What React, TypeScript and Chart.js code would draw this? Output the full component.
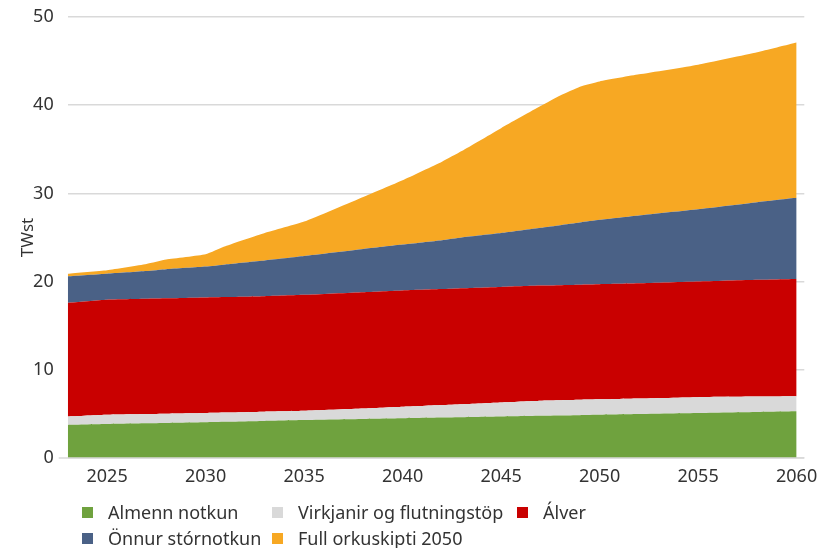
import React, { useEffect, useRef } from "react";
import { Chart, registerables } from "chart.js";

Chart.register(...registerables);

const years = [2023, 2025, 2027, 2028, 2030, 2031, 2033, 2035, 2038, 2040, 2042, 2043, 2045, 2047, 2048, 2049, 2050, 2052, 2055, 2058, 2060];

const almennNotkun = [3.75, 3.85, 3.93, 3.97, 4.05, 4.1, 4.2, 4.3, 4.42, 4.5, 4.58, 4.62, 4.7, 4.78, 4.82, 4.86, 4.9, 4.98, 5.1, 5.22, 5.3];
const virkjanir = [0.95, 1.05, 1.05, 1.05, 1.05, 1.05, 1.05, 1.05, 1.18, 1.3, 1.42, 1.48, 1.6, 1.72, 1.73, 1.74, 1.75, 1.77, 1.8, 1.74, 1.7];
const alver = [12.9, 13.05, 13.07, 13.08, 13.1, 13.1, 13.1, 13.15, 13.2, 13.2, 13.15, 13.15, 13.1, 13.05, 13.05, 13.05, 13.05, 13.05, 13.1, 13.24, 13.3];
const onnurStornotkun = [3.0, 2.95, 3.15, 3.3, 3.5, 3.7, 4.05, 4.4, 4.9, 5.2, 5.55, 5.75, 6.1, 6.55, 6.8, 7.05, 7.3, 7.7, 8.2, 8.8, 9.2];
const fullOrkuskipti = [0.3, 0.4, 0.8, 1.1, 1.4, 2.05, 3.1, 3.9, 5.9, 7.3, 8.9, 9.8, 11.9, 13.8, 14.7, 15.4, 15.7, 16.0, 16.4, 17.0, 17.6];

const seriesLabels = ["Almenn notkun", "Virkjanir og flutningstöp", "Álver", "Önnur stórnotkun", "Full orkuskipti 2050"];
const seriesColors = ["#6FA23E", "#D9D9D9", "#C90000", "#4A6186", "#F7A823"];
const seriesValues = [almennNotkun, virkjanir, alver, onnurStornotkun, fullOrkuskipti];

const xTicks = [2025, 2030, 2035, 2040, 2045, 2050, 2055, 2060];
const yTicks = [0, 10, 20, 30, 40, 50];
const yTitle = "TWst";

const FONT = "'Noto Sans', 'Open Sans', sans-serif";
const TEXT = "#333333";

// legend layout: [row, col]
const legendPlacement = [
  [0, 0],
  [0, 1],
  [0, 2],
  [1, 0],
  [1, 1],
];
const legendColX = [82, 272, 517];
const legendRowY = [512, 538];

const zeroLinePlugin = {
  id: "zeroLine",
  afterDatasetsDraw(chart: any) {
    const { ctx, chartArea, scales } = chart;
    const y = scales.y.getPixelForValue(0);
    ctx.save();
    ctx.strokeStyle = "#D9D9D9";
    ctx.lineWidth = 1.5;
    ctx.beginPath();
    ctx.moveTo(chartArea.left - 9, y);
    ctx.lineTo(chartArea.right, y);
    ctx.stroke();
    ctx.restore();
  },
};

export default function App() {
  const canvasRef = useRef<HTMLCanvasElement | null>(null);

  useEffect(() => {
    document.body.style.margin = "0";
    const canvas = canvasRef.current;
    if (!canvas) return;
    const datasets = seriesLabels.map((label, i) => ({
      label,
      data: years.map((yr, j) => ({ x: yr, y: seriesValues[i][j] })),
      backgroundColor: seriesColors[i],
      borderColor: seriesColors[i],
      borderWidth: 0,
      pointRadius: 0,
      fill: i === 0 ? "origin" : "-1",
      tension: 0.15,
      order: i,
    }));
    const chart = new Chart(canvas, {
      type: "line",
      data: { datasets },
      plugins: [zeroLinePlugin],
      options: {
        animation: false,
        responsive: false,
        maintainAspectRatio: false,
        layout: { padding: { left: 0, right: 22.7, top: 17, bottom: 0 } },
        plugins: {
          legend: { display: false },
          tooltip: { enabled: false },
        },
        scales: {
          x: {
            type: "linear",
            min: 2023,
            max: 2060.39,
            afterFit: (scale: any) => {
              scale.height = 90;
              scale.paddingLeft = 0;
              scale.paddingRight = 0;
            },
            afterBuildTicks: (scale: any) => {
              scale.ticks = xTicks.map((v) => ({ value: v }));
            },
            grid: { display: false, drawTicks: false },
            border: { display: false },
            ticks: {
              color: TEXT,
              font: { family: FONT, size: 18 },
              padding: 8,
              maxRotation: 0,
              autoSkip: false,
              callback: (v: any) => String(v),
            },
          },
          y: {
            stacked: true,
            min: 0,
            max: 50,
            afterFit: (scale: any) => {
              scale.width = 67.7;
              scale.paddingTop = 0;
              scale.paddingBottom = 0;
            },
            afterBuildTicks: (scale: any) => {
              scale.ticks = yTicks.map((v) => ({ value: v }));
            },
            grid: { color: "#D9D9D9", lineWidth: 1.5, drawTicks: false },
            border: { display: false },
            ticks: {
              color: TEXT,
              font: { family: FONT, size: 18 },
              padding: 14,
            },
            title: {
              display: true,
              text: yTitle,
              color: TEXT,
              font: { family: FONT, size: 17 },
              padding: { top: 18, bottom: 0 },
            },
          },
        },
      },
    } as any);
    return () => chart.destroy();
  }, []);

  return (
    <div style={{ position: "relative", width: 827, height: 548, background: "#fff", overflow: "hidden" }}>
      <canvas ref={canvasRef} width={827} height={548} style={{ position: "absolute", left: 0, top: 0 }} />
      {seriesLabels.map((label, i) => {
        const [row, col] = legendPlacement[i];
        return (
          <div
            key={label}
            style={{
              position: "absolute",
              left: legendColX[col],
              top: legendRowY[row] - 13,
              height: 26,
              display: "flex",
              alignItems: "center",
              fontFamily: FONT,
              fontSize: 18,
              color: TEXT,
              whiteSpace: "nowrap",
            }}
          >
            <span style={{ display: "inline-block", width: 11, height: 11, background: seriesColors[i], marginRight: 15 }} />
            <span>{label}</span>
          </div>
        );
      })}
    </div>
  );
}
